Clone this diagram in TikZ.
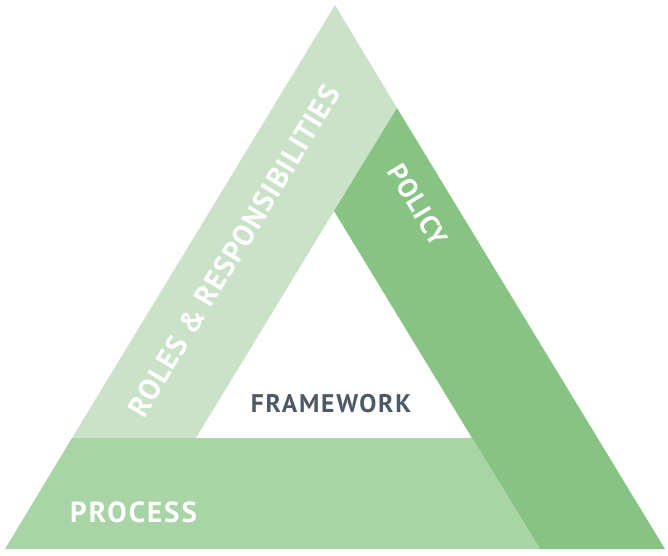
\documentclass[tikz,border=0pt]{standalone}
\usepackage{fontspec}
\setmainfont{PT Sans}
\newfontfamily\lblfont[LetterSpace=4]{PT Sans}
\newfontfamily\widefont[LetterSpace=7]{PT Sans}
\definecolor{rolesc}{HTML}{C9E2C8}
\definecolor{processc}{HTML}{A8D4A6}
\definecolor{policyc}{HTML}{87C484}
\definecolor{framec}{HTML}{4D5A66}
\tikzset{
  lbl/.style={text=white, font=\lblfont\bfseries\fontsize{27}{29}\selectfont, inner sep=0pt},
  rolelbl/.style={text=white, font=\lblfont\bfseries\fontsize{29.5}{31}\selectfont, inner sep=0pt},
  proclbl/.style={text=white, font=\widefont\bfseries\fontsize{29}{31}\selectfont, inner sep=0pt},
  framelbl/.style={text=framec, font=\widefont\bfseries\fontsize{25.5}{27}\selectfont, inner sep=0pt}
}
\begin{document}
\begin{tikzpicture}[x=1pt,y=-1pt]
\useasboundingbox (0,0) rectangle (668,555);
% outer corners
\coordinate (L) at (5,549);
\coordinate (T) at (335,5);
\coordinate (R) at (665,549);
% inner triangle
\coordinate (IL) at (196,438);
\coordinate (IT) at (334,211);
\coordinate (IR) at (472,438);
% band boundaries
\coordinate (PT) at (397,108);
\coordinate (BL) at (72,438);
\coordinate (BR) at (540,549);
% roles band
\fill[rolesc] (BL) -- (T) -- (PT) -- (IT) -- (IL) -- cycle;
% policy band
\fill[policyc] (PT) -- (R) -- (BR) -- (IR) -- (IT) -- cycle;
% process band
\fill[processc] (L) -- (BL) -- (IR) -- (BR) -- cycle;
% labels
\node[proclbl, anchor=base west] (process) at (70,522) {PROCESS};
\node[rolelbl, rotate=58.8] (roles) at (234,251) {ROLES \& RESPONSIBILITIES};
\node[lbl, rotate=-58.8] (policy) at (418,205) {POLICY};
\node[framelbl] (framework) at (331,404) {FRAMEWORK};
\end{tikzpicture}
\end{document}
